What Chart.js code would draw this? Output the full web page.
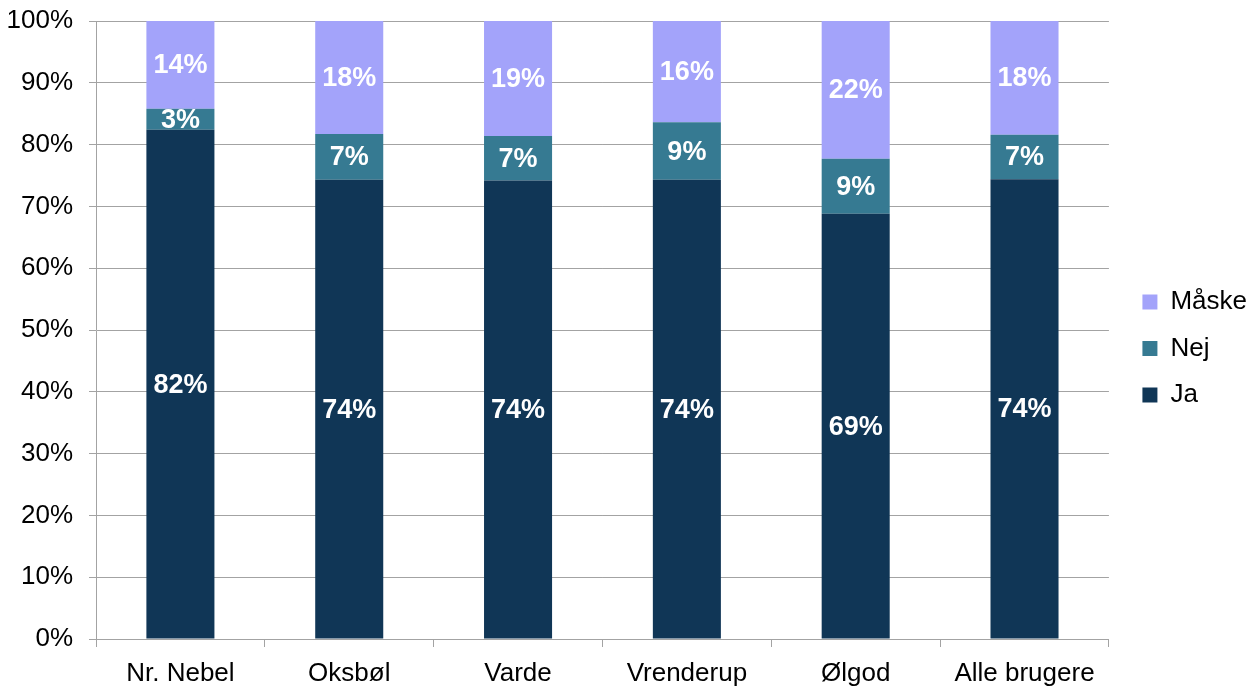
<!DOCTYPE html>
<html>
<head>
<meta charset="utf-8">
<script src="https://cdn.jsdelivr.net/npm/chart.js@4.4.0/dist/chart.umd.min.js"></script>
<style>
  html, body { margin: 0; padding: 0; background: #fff; }
  #wrap { width: 1257px; height: 686px; }
</style>
</head>
<body>
<div id="wrap"><canvas id="svarChart" width="1257" height="686"></canvas></div>
<script>
// data (percent of answers)
const categories = ['Nr. Nebel', 'Oksbøl', 'Varde', 'Vrenderup', 'Ølgod', 'Alle brugere'];
const jaValues    = [82.4, 74.3, 74.2, 74.3, 68.8, 74.4];
const nejValues   = [3.4, 7.4, 7.2, 9.3, 8.9, 7.2];
const maaskeValues = [14.2, 18.3, 18.6, 16.4, 22.3, 18.4];
const yTicks = [0, 10, 20, 30, 40, 50, 60, 70, 80, 90, 100];

const FONT = '"Liberation Sans", Arial, sans-serif';
const GRID = '#a3a3a3';

// white percentage labels in the middle of each segment
const segmentLabels = {
    id: 'segmentLabels',
    afterDatasetsDraw(chart) {
        const ctx = chart.ctx;
        ctx.save();
        ctx.font = 'bold 27px ' + FONT;
        ctx.fillStyle = '#ffffff';
        ctx.textAlign = 'center';
        ctx.textBaseline = 'middle';
        chart.data.datasets.forEach((ds, i) => {
            const meta = chart.getDatasetMeta(i);
            meta.data.forEach((bar, j) => {
                const midY = (bar.y + bar.base) / 2;
                ctx.fillText(Math.round(ds.data[j]) + '%', bar.x, midY + 1);
            });
        });
        ctx.restore();
    }
};

const ctx = document.getElementById('svarChart').getContext('2d');

const svarChart = new Chart(ctx, {
    type: 'bar',
    data: {
        labels: categories,
        datasets: [
            { label: 'Ja', data: jaValues, backgroundColor: '#103656' },
            { label: 'Nej', data: nejValues, backgroundColor: '#367a92' },
            { label: 'Måske', data: maaskeValues, backgroundColor: '#a3a3fa' }
        ]
    },
    options: {
        responsive: false,
        animation: false,
        categoryPercentage: 1,
        barPercentage: 0.403,
        layout: { padding: { top: 11, left: 0, right: 0, bottom: 0 } },
        plugins: {
            tooltip: { enabled: false },
            legend: {
                position: 'right',
                reverse: true,
                labels: {
                    boxWidth: 15,
                    boxHeight: 15,
                    padding: 20.5,
                    color: '#000',
                    font: { family: FONT, size: 26 }
                }
            }
        },
        scales: {
            x: {
                stacked: true,
                grid: { display: true, drawOnChartArea: false, tickLength: 8, color: GRID },
                border: { color: GRID },
                ticks: { color: '#000', padding: 11, font: { family: FONT, size: 26 } },
                afterFit(scale) { scale.height = 47; }
            },
            y: {
                stacked: true,
                min: 0,
                max: 100,
                afterBuildTicks(scale) {
                    scale.ticks = yTicks.map(v => ({ value: v }));
                },
                grid: { color: GRID, tickLength: 7 },
                border: { color: GRID },
                ticks: {
                    color: '#000',
                    padding: 16,
                    font: { family: FONT, size: 26 },
                    callback: v => v + '%'
                },
                afterFit(scale) {
                    scale.width = 96;
                    scale.paddingTop = 21;   // plot top sits at y = 21
                    scale.paddingBottom = 0;
                }
            },
            // empty axis only used as a gap between plot and legend
            gap: {
                position: 'right',
                display: true,
                grid: { display: false },
                border: { display: false },
                ticks: { display: false },
                afterFit(scale) {
                    scale.width = 13;
                    scale.paddingTop = 0;
                    scale.paddingBottom = 0;
                }
            }
        }
    },
    plugins: [segmentLabels]
});
</script>
</body>
</html>
